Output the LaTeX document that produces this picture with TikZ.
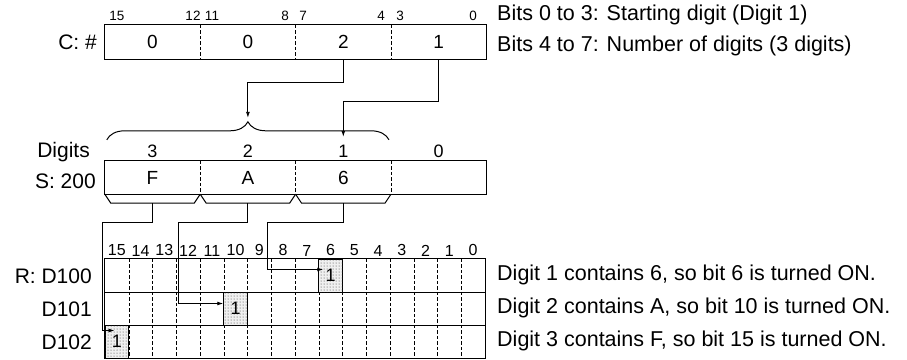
\documentclass[tikz,border=0pt]{standalone}
\usepackage{fontspec}
\setmainfont{Liberation Sans}
\usetikzlibrary{arrows.meta,positioning,calc,decorations.pathreplacing,patterns}

\begin{document}
\begin{tikzpicture}[
  x=1pt, y=-1pt,
  field/.style={minimum width=95pt, minimum height=34pt, inner sep=0pt,
                font=\fontsize{19}{21}\selectfont},
  cell/.style={minimum width=23.75pt, minimum height=33pt, inner sep=0pt},
  oncell/.style={cell, draw, line width=1pt, fill=black!6,
                 postaction={pattern=dots, pattern color=black!80},
                 font=\fontsize{18}{20}\selectfont},
  frame/.style={line width=1.2pt},
  div/.style={line width=0.9pt, dash pattern=on 3.5pt off 2pt},
  arr/.style={-{Latex[length=6pt,width=4pt]}, line width=0.9pt},
  digbrk/.style={line width=1pt},
  lbl/.style={font=\fontsize{21}{24}\selectfont, anchor=east, inner sep=0pt},
  note/.style={font=\fontsize{21.5}{24}\selectfont, anchor=west, inner sep=0pt},
  bitno/.style={font=\fontsize{13.5}{15}\selectfont, inner sep=0pt},
  gridno/.style={font=\fontsize{16}{18}\selectfont, inner sep=0pt},
  digno/.style={font=\fontsize{18}{20}\selectfont, inner sep=0pt},
]
\useasboundingbox (0,0) rectangle (907,359);

%% Control word C
\node[field] (c3) at (152.5,42) {0};
\node[field, right=0pt of c3] (c2) {0};
\node[field, right=0pt of c2] (c1) {2};
\node[field, right=0pt of c1] (c0) {1};
\draw[frame] (c3.north west) rectangle (c0.south east);
\foreach \f in {3,2,1}
  \draw[div] (c\f.north east) -- (c\f.south east);
\foreach \v/\x in {15/117,12/193,11/212,8/285,7/303,4/381,3/400,0/473}
  \node[bitno] (cb\v) at (\x,16) {\v};
\node[lbl] (cname) at (97,42) {C: \#};

%% Notes on C
\node[note] (bits03) at (497,15) {Bits 0 to 3: Starting digit (Digit 1)};
\node[note] (bits47) at (497,46) {Bits 4 to 7: Number of digits (3 digits)};

%% Source word S
\node[field, minimum height=33pt] (s3) at (152.5,177.5) {F};
\node[field, minimum height=33pt, right=0pt of s3] (s2) {A};
\node[field, minimum height=33pt, right=0pt of s2] (s1) {6};
\node[field, minimum height=33pt, right=0pt of s1] (s0) {};
\draw[frame] (s3.north west) rectangle (s0.south east);
\foreach \f in {3,2,1}
  \draw[div] (s\f.north east) -- (s\f.south east);
\foreach \f in {3,2,1,0}
  \node[digno, above=3pt of s\f] (dg\f) {\f};
\node[lbl] (digits) at (90,152) {Digits};
\node[lbl] (sname) at (96,181) {S: 200};

%% Brace over digits 3 to 1
\draw[decorate, decoration={brace, amplitude=18pt}, line width=1pt]
  ($(s3.north west)+(2,-21)$) -- ($(s1.north east)+(-2,-21)$);
\coordinate (tip) at ($(s2.north)+(0,-43)$);
\coordinate (d1) at ($(s1.north)+(0,-24)$);
\draw[arr] (c1.south) -- ++(0,23) -| (tip);
\draw[arr] (c0.south) -- ++(0,42) -| (d1);

%% Small brackets under each digit
\foreach \f in {3,2,1}
  \draw[digbrk] (s\f.south west) -- ++(6,9) -- ($(s\f.south east)+(-6,9)$) -- (s\f.south east);

%% Result words R
\foreach \r in {0,1,2}
  \foreach \b in {0,...,15}
    \node[cell] (g\r-\b) at ({105+(15.5-\b)*23.75},{259+(\r+0.5)*33}) {};
\foreach \b in {0,...,15}
  \node[gridno, above=2.5pt of g0-\b] (gb\b) {\b};
\foreach \b in {15,...,1}
  \draw[div] (g0-\b.north east) -- (g2-\b.south east);
\foreach \r in {0,1}
  \draw[frame] (g\r-15.south west) -- (g\r-0.south east);
\draw[frame] (g0-15.north west) rectangle (g2-0.south east);
\node[oncell] (on6) at (g0-6) {1};
\node[oncell] (on10) at (g1-10) {1};
\node[oncell] (on15) at (g2-15) {1};
\node[lbl] (r100) at (92,276) {R: D100};
\node[lbl] (r101) at (92,309) {D101};
\node[lbl] (r102) at (92,342) {D102};

%% Digit to bit connectors
\coordinate (j3) at (102,222);
\coordinate (j2) at (178,222);
\coordinate (j1) at (267,222);
\coordinate (e15) at ($(on15.west)+(10,-11)$);
\coordinate (e10) at ($(on10.west)+(0,-5)$);
\coordinate (e6) at ($(on6.west)+(5,-6)$);
\draw[arr] ($(s3.south)+(0,9)$) |- (j3) |- (e15);
\draw[arr] ($(s2.south)+(0,9)$) |- (j2) |- (e10);
\draw[arr] ($(s1.south)+(0,9)$) |- (j1) |- (e6);

%% Notes on R
\node[note] (note1) at (497,275) {Digit 1 contains 6, so bit 6 is turned ON.};
\node[note] (note2) at (497,308) {Digit 2 contains A, so bit 10 is turned ON.};
\node[note] (note3) at (497,341) {Digit 3 contains F, so bit 15 is turned ON.};

\end{tikzpicture}
\end{document}
